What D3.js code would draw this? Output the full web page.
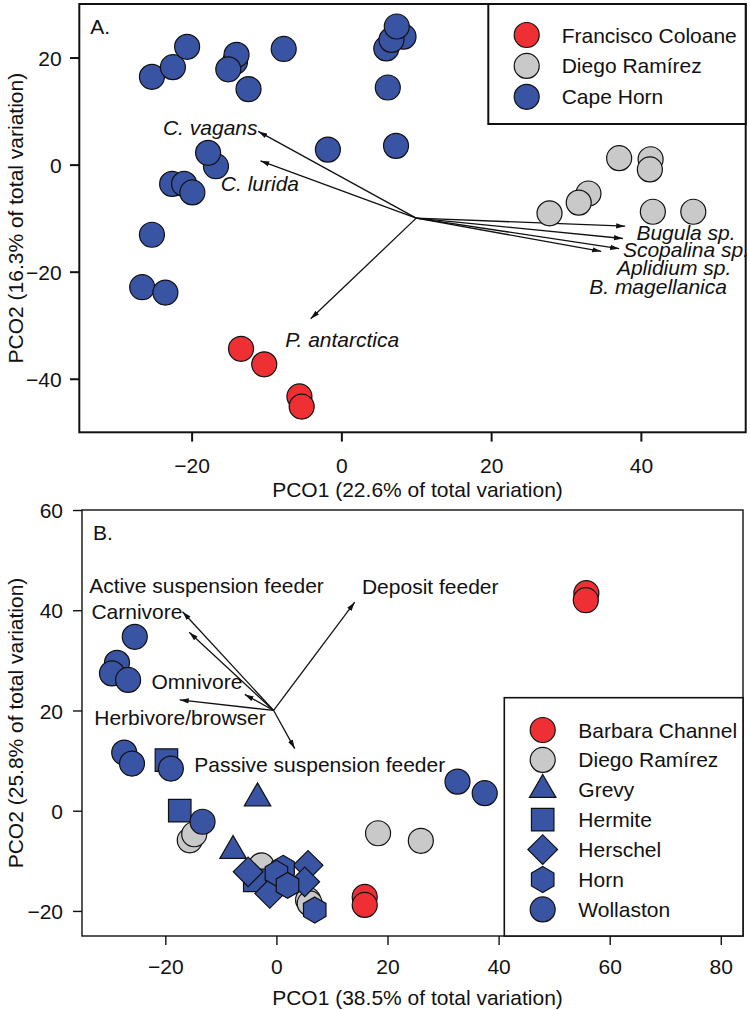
<!DOCTYPE html>
<html>
<head>
<meta charset="utf-8">
<script src="https://cdn.jsdelivr.net/npm/d3@7"></script>
<style>
  body { margin: 0; background: #fff; }
  svg { display: block; }
  text { font-family: "Liberation Sans", Arial, sans-serif; fill: #111; }
</style>
</head>
<body>
<div id="chart"></div>
<script>
// ---------- data: panel A ----------
const groupsA = ["Francisco Coloane", "Diego Ramírez", "Cape Horn"];
const coloaneA = [[-13.4, -34.4], [-10.3, -37.3], [-5.6, -43.3], [-5.3, -45.2]];
const diegoA = [[37.1, 1.2], [41.3, 1.0], [41.2, -0.9], [33.0, -5.4], [31.7, -7.1],
  [27.8, -9.1], [41.6, -8.8], [47.0, -8.8]];
const capeHornA = [[-25.3, 16.4], [-22.5, 18.2], [-20.6, 22.0], [-14.2, 19.2], [-14.0, 20.5],
  [-15.1, 17.8], [-12.4, 14.1], [-7.7, 21.6], [6.0, 21.7], [8.3, 23.9], [6.7, 23.3],
  [7.4, 25.8], [6.2, 14.4], [7.3, 3.5], [-1.8, 2.8], [-16.75, -0.3], [-17.8, 2.2],
  [-22.6, -3.6], [-21.0, -3.6], [-19.9, -5.2], [-25.3, -13.1], [-26.6, -22.9], [-23.5, -23.9]];
const speciesA = ["C. vagans", "C. lurida", "P. antarctica", "Bugula sp.", "Scopalina sp.",
  "Aplidium sp.", "B. magellanica"];
const speciesTipsA = [[-11.1, 6.2], [-10.8, 0.7], [-4.1, -28.8], [37.9, -11.5], [37.6, -13.8],
  [37.1, -15.7], [34.7, -16.2]];
const originA = [10, -10];
const xTicksA = [-20, 0, 20, 40];
const yTicksA = [20, 0, -20, -40];

// ---------- data: panel B ----------
const groupsB = ["Barbara Channel", "Diego Ramírez", "Grevy", "Hermite", "Herschel", "Horn", "Wollaston"];
const barbaraB = [[15.9, -17.2], [15.9, -18.8], [55.8, 43.4], [55.7, 42.0]];
const diegoB = [[-15.6, -5.9], [-14.8, -4.7], [-2.7, -10.9], [5.7, -17.8], [6.0, -18.5],
  [18.3, -4.5], [26.0, -6.0]];
const grevyB = [[-3.4, 2.5], [-7.8, -8.0]];
const hermiteB = [[-19.8, 10.1], [-17.4, 0.0], [-3.9, -13.9]];
const herschelB = [[-5.1, -12.2], [5.7, -10.9], [5.1, -14.2], [-1.2, -16.5]];
const hornB = [[1.2, -11.5], [0.0, -12.5], [2.0, -14.9], [6.9, -19.8]];
const wollastonB = [[-25.5, 34.7], [-28.7, 29.5], [-29.6, 27.4], [-26.7, 26.1], [-27.4, 11.6],
  [-26.0, 9.4], [-19.0, 8.4], [-13.3, -2.2], [32.6, 5.8], [37.5, 3.5]];
const feedingB = ["Active suspension feeder", "Carnivore", "Omnivore", "Herbivore/browser",
  "Passive suspension feeder", "Deposit feeder"];
const feedingTipsB = [[-16.9, 39.7], [-15.7, 35.6], [-5.7, 23.2], [-17.4, 22.1], [3.3, 12.4], [14.1, 41.6]];
const originB = [-0.5, 20];
const xTicksB = [-20, 0, 20, 40, 60, 80];
const yTicksB = [60, 40, 20, 0, -20];

// ---------- layout ----------
const width = 750, height = 1010;
const fontSize = 21;
const blue = "#3a54a4", red = "#ee3035", gray = "#c9c9c9", ink = "#111";

// label anchors (data units) for vector names
const speciesLabelA = [[-11.2, 5.6, "end"], [-16.1, -5.0, "start"], [-7.5, -34.1, "start"],
  [39.4, -14.1, "start"], [37.6, -17.3, "start"], [36.8, -20.7, "start"], [33.1, -24.2, "start"]];
const feedingLabelB = [[-33.7, 43.4], [-33.3, 38.3], [-22.5, 24.2], [-32.8, 17.1], [-14.8, 7.7], [15.4, 43.2]];

const svg = d3.select("#chart").append("svg")
  .attr("width", width)
  .attr("height", height);

const defs = svg.append("defs");
defs.append("marker")
  .attr("id", "arrow")
  .attr("viewBox", "0 -3 9 6")
  .attr("refX", 9)
  .attr("refY", 0)
  .attr("markerUnits", "userSpaceOnUse")
  .attr("markerWidth", 9)
  .attr("markerHeight", 6)
  .attr("orient", "auto")
  .append("path")
  .attr("d", "M0,-2.6L9,0L0,2.6Z")
  .attr("fill", ink);

// symbol shapes
const hexagon = {
  draw(context, size) {
    const r = Math.sqrt(size * 2 / (3 * Math.sqrt(3)));
    for (let i = 0; i < 6; i++) {
      const a = -Math.PI / 2 + i * Math.PI / 3;
      if (i === 0) context.moveTo(r * Math.cos(a), r * Math.sin(a));
      else context.lineTo(r * Math.cos(a), r * Math.sin(a));
    }
    context.closePath();
  }
};
const shapes = {
  circle: { path: d3.symbol(d3.symbolCircle, Math.PI * 12.5 * 12.5)(), rotate: 0 },
  square: { path: d3.symbol(d3.symbolSquare, 22.5 * 22.5)(), rotate: 0 },
  diamond: { path: d3.symbol(d3.symbolSquare, 21 * 21)(), rotate: 45 },
  triangle: { path: d3.symbol(d3.symbolTriangle, 0.433 * 26.5 * 26.5)(), rotate: 0 },
  hexagon: { path: d3.symbol(hexagon, 2.598 * 13 * 13)(), rotate: 0 }
};

function drawPanel(cfg) {
  const x = d3.scaleLinear().domain(cfg.xDomain).range([cfg.left, cfg.right]);
  const y = d3.scaleLinear().domain(cfg.yDomain).range([cfg.bottom, cfg.top]);
  const g = svg.append("g");

  // axes
  const ax = g.append("g")
    .attr("transform", `translate(0,${cfg.bottom})`)
    .call(d3.axisBottom(x).tickValues(cfg.xTicks).tickFormat(d3.format("d"))
      .tickSize(cfg.tickSize).tickSizeOuter(0).tickPadding(cfg.xPad));
  const ay = g.append("g")
    .attr("transform", `translate(${cfg.left},0)`)
    .call(d3.axisLeft(y).tickValues(cfg.yTicks).tickFormat(d3.format("d"))
      .tickSize(cfg.tickSize).tickSizeOuter(0).tickPadding(cfg.yPad));
  [ax, ay].forEach((a) => {
    a.select(".domain").remove();
    a.selectAll("line").attr("stroke", ink).attr("stroke-width", cfg.lineWidth);
    a.selectAll("text").attr("font-size", fontSize).attr("fill", ink)
      .style("font-family", '"Liberation Sans", Arial, sans-serif');
  });
  ay.selectAll("text").attr("dy", "0.36em");

  // frame
  g.append("rect")
    .attr("x", cfg.left).attr("y", cfg.top)
    .attr("width", cfg.right - cfg.left).attr("height", cfg.bottom - cfg.top)
    .attr("fill", "none").attr("stroke", ink).attr("stroke-width", cfg.lineWidth);

  // axis titles
  g.append("text")
    .attr("x", (cfg.left + cfg.right) / 2 + 5)
    .attr("y", cfg.bottom + cfg.titleGap)
    .attr("text-anchor", "middle").attr("font-size", fontSize)
    .text(cfg.xTitle);
  g.append("text")
    .attr("transform", `translate(22.5,${(cfg.top + cfg.bottom) / 2}) rotate(-90)`)
    .attr("text-anchor", "middle").attr("font-size", fontSize)
    .text(cfg.yTitle);

  // panel letter
  g.append("text")
    .attr("x", cfg.left + 11).attr("y", cfg.top + 30)
    .attr("font-size", fontSize)
    .text(cfg.letter);

  // vectors
  g.selectAll(".vec")
    .data(cfg.tips)
    .join("line")
    .attr("x1", x(cfg.origin[0])).attr("y1", y(cfg.origin[1]))
    .attr("x2", (d) => x(d[0])).attr("y2", (d) => y(d[1]))
    .attr("stroke", ink).attr("stroke-width", 1.3)
    .attr("marker-end", "url(#arrow)");

  g.selectAll(".vlab")
    .data(cfg.names)
    .join("text")
    .attr("x", (d, i) => x(cfg.labelPos[i][0]))
    .attr("y", (d, i) => y(cfg.labelPos[i][1]))
    .attr("text-anchor", (d, i) => cfg.labelPos[i][2] || "start")
    .attr("font-size", fontSize)
    .attr("font-style", cfg.italic ? "italic" : "normal")
    .text((d) => d);

  // points
  cfg.series.forEach((s) => {
    const shp = shapes[s.shape];
    g.append("g").selectAll("path")
      .data(s.values)
      .join("path")
      .attr("d", shp.path)
      .attr("transform", (d) => `translate(${x(d[0])},${y(d[1])}) rotate(${shp.rotate})`)
      .attr("fill", s.color)
      .attr("stroke", ink).attr("stroke-width", 1.2);
  });

  // legend
  const lg = cfg.legend;
  const leg = g.append("g").attr("transform", `translate(${lg.left},${lg.top})`);
  leg.append("rect")
    .attr("width", lg.right - lg.left).attr("height", lg.bottom - lg.top)
    .attr("fill", "#fff").attr("stroke", ink).attr("stroke-width", lg.lineWidth);
  const rows = leg.selectAll(".row")
    .data(cfg.series)
    .join("g")
    .attr("transform", (d, i) => `translate(0,${lg.first + i * lg.step})`);
  rows.append("path")
    .attr("d", (d) => shapes[d.shape].path)
    .attr("transform", (d) => `translate(${lg.symX},0) rotate(${shapes[d.shape].rotate})`)
    .attr("fill", (d) => d.color)
    .attr("stroke", ink).attr("stroke-width", 1.2);
  rows.append("text")
    .attr("x", lg.textX).attr("y", 7.5)
    .attr("font-size", fontSize)
    .text((d) => d.name);
}

drawPanel({
  letter: "A.",
  left: 79.3, right: 745.7, top: 4, bottom: 432.3,
  xDomain: [-35, 54], yDomain: [-50, 30],
  xTicks: xTicksA, yTicks: yTicksA,
  tickSize: 9.3, xPad: 16, yPad: 8.3, lineWidth: 2, titleGap: 65,
  xTitle: "PCO1 (22.6% of total variation)",
  yTitle: "PCO2 (16.3% of total variation)",
  origin: originA, tips: speciesTipsA, names: speciesA, labelPos: speciesLabelA, italic: true,
  series: [
    { name: groupsA[0], values: coloaneA, shape: "circle", color: red },
    { name: groupsA[1], values: diegoA, shape: "circle", color: gray },
    { name: groupsA[2], values: capeHornA, shape: "circle", color: blue }
  ],
  legend: { left: 488.3, right: 745.7, top: 4, bottom: 124, lineWidth: 2,
    first: 31, step: 30.9, symX: 38.4, textX: 73.4 }
});

drawPanel({
  letter: "B.",
  left: 82, right: 743, top: 510, bottom: 936,
  xDomain: [-35, 84], yDomain: [-25, 60],
  xTicks: xTicksB, yTicks: yTicksB,
  tickSize: 9, xPad: 14, yPad: 10, lineWidth: 1.4, titleGap: 68.5,
  xTitle: "PCO1 (38.5% of total variation)",
  yTitle: "PCO2 (25.8% of total variation)",
  origin: originB, tips: feedingTipsB, names: feedingB,
  labelPos: feedingLabelB.map((d) => [d[0], d[1], "start"]), italic: false,
  series: [
    { name: groupsB[0], values: barbaraB, shape: "circle", color: red },
    { name: groupsB[1], values: diegoB, shape: "circle", color: gray },
    { name: groupsB[2], values: grevyB, shape: "triangle", color: blue },
    { name: groupsB[3], values: hermiteB, shape: "square", color: blue },
    { name: groupsB[4], values: herschelB, shape: "diamond", color: blue },
    { name: groupsB[5], values: hornB, shape: "hexagon", color: blue },
    { name: groupsB[6], values: wollastonB, shape: "circle", color: blue }
  ],
  legend: { left: 504.3, right: 743, top: 697.7, bottom: 936, lineWidth: 1.6,
    first: 32.3, step: 29.9, symX: 38.4, textX: 74 }
});
</script>
</body>
</html>
